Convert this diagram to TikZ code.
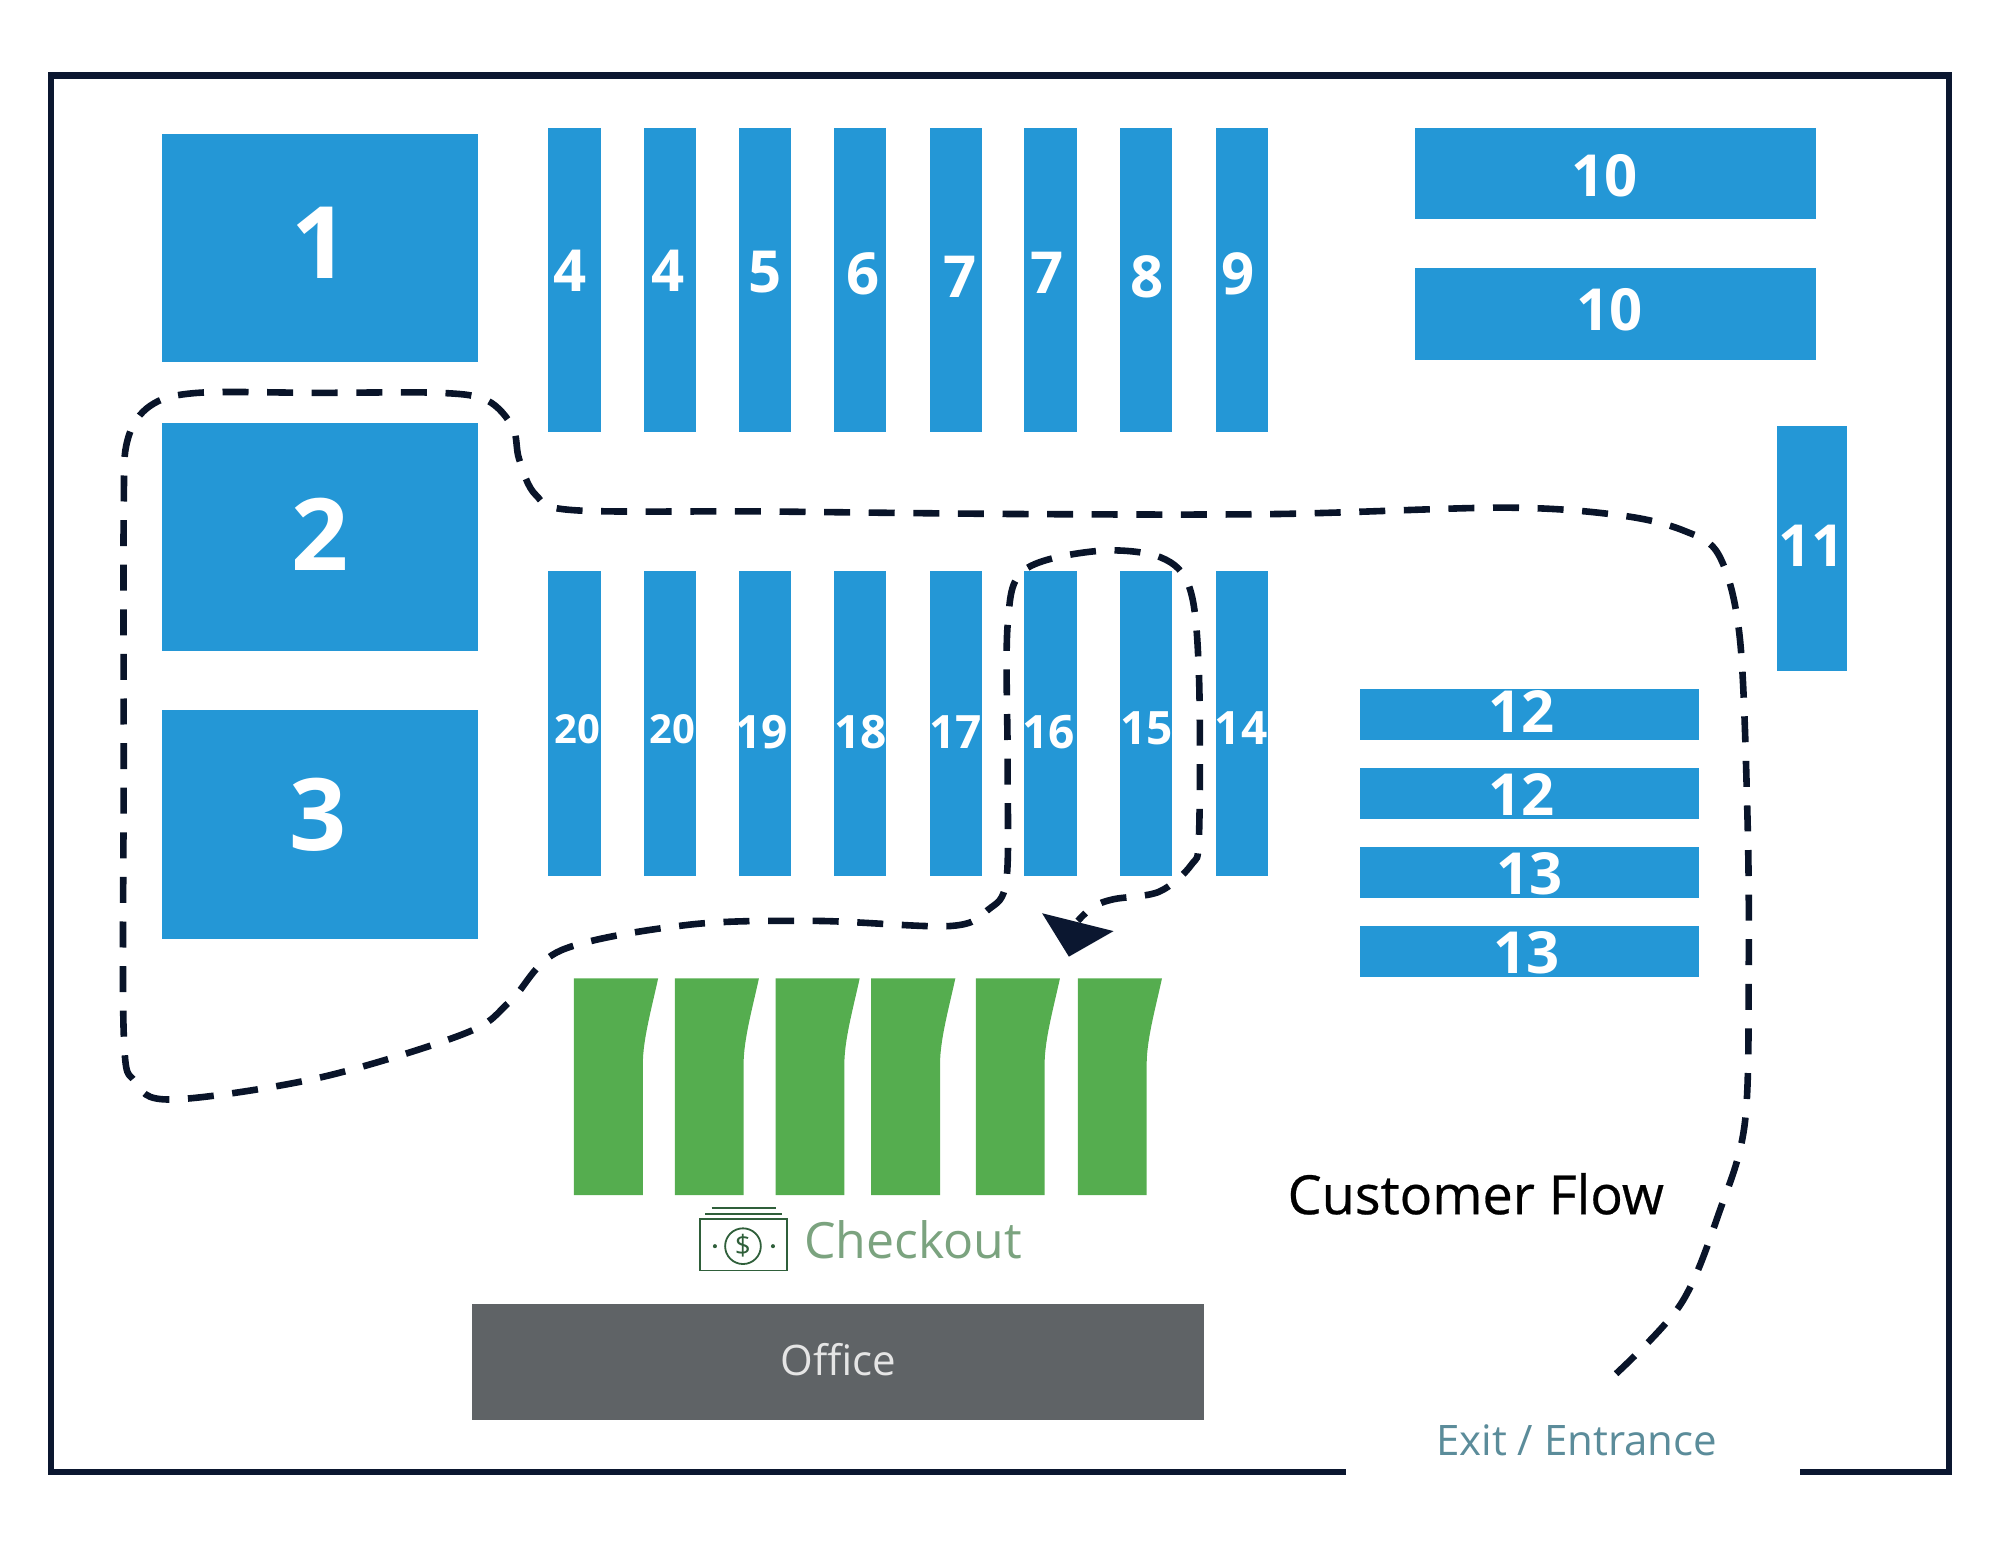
\documentclass[tikz,border=0pt]{standalone}
\usepackage{fontspec}
\setmainfont{Open Sans}
\definecolor{shelf}{HTML}{2497D6}
\definecolor{till}{HTML}{55AD4F}
\definecolor{navy}{HTML}{0B1730}
\definecolor{officegrey}{HTML}{5F6366}
\definecolor{checkgreen}{HTML}{7BA37F}
\definecolor{icongreen}{HTML}{2F5F3A}
\definecolor{exitteal}{HTML}{5B8C9A}
\tikzset{
  shelfbox/.style={fill=shelf,draw=none},
  tillbox/.style={fill=till,draw=none},
  num/.style={text=white,font=\bfseries\fontsize{29}{29}\selectfont,inner sep=0pt},
  numsmall/.style={text=white,font=\bfseries\fontsize{23}{23}\selectfont,inner sep=0pt},
  numtiny/.style={text=white,font=\bfseries\fontsize{20}{20}\selectfont,inner sep=0pt},
  numbig/.style={text=white,font=\bfseries\fontsize{50}{50}\selectfont,inner sep=0pt},
  wall/.style={draw=navy,line width=3.4pt,line cap=butt,line join=miter},
  flow/.style={draw=navy!85!black,line width=3.3pt,dash pattern=on 13pt off 9.3pt},
}
\begin{document}
\begin{tikzpicture}[x=0.63776pt,y=-0.63776pt]
\useasboundingbox (0,0) rectangle (1568,1211.4);
% walls
\draw[wall] (1055,1154) -- (40,1154) -- (40,59) -- (1528,59) -- (1528,1154) -- (1411,1154);
% departments
\foreach \a/\b/\c/\d in {127/105/375/284,127/332/375/510,127/557/375/736,
  1109/100/1424/172,1109/210/1424/282,1393/334/1448/526,
  1066/540/1332/580,1066/602/1332/642,1066/664/1332/704,1066/726/1332/766}
  \fill[shelfbox] (\a,\b) rectangle (\c,\d);
% aisles
\foreach \a in {430,505,579,654,729,803,878,953}{
  \fill[shelfbox] (\a,100) rectangle (\a+41,339);
  \fill[shelfbox] (\a,448) rectangle (\a+41,687);
}
% checkouts
\foreach \a in {450,529,608,683,765,845}
  \fill[tillbox] (\a,767) -- (\a+66,767) .. controls (\a+61,790) and (\a+54,815) .. (\a+54,834) -- (\a+54,937) -- (\a,937) -- cycle;
% office
\fill[officegrey] (370,1022) rectangle (944,1113);
% flow
\draw[flow] plot[smooth,tension=0.55] coordinates {
 (1267,1077) (1318,1022) (1348,950) (1368,880) (1371,760) (1370,640) (1364,500) (1348,436) (1320,416)
 (1270,404) (1180,398) (1000,403) (800,403) (600,401) (450,400) (420,388) (407,360) (402,335) (382,314) (345,308)
 (250,308) (155,308) (118,318) (100,345) (97,400) (97,600) (97,810) (106,848) (135,862) (250,845) (365,810) (400,785)
 (440,745) (540,725) (640,722) (745,726) (775,713) (789,690) (790,600) (790,490) (803,447) (860,432) (910,437)
 (933,462) (940,530) (940,655) (934,678) (909,699) (873,705) (857,711) (845,722)};
\fill[navy] (817,716) -- (873,730) -- (838,750) -- cycle;
% icon
\draw[icongreen,line width=0.9pt] (549,956) rectangle (617,996);
\draw[icongreen,line width=0.9pt] (558,947) -- (608,947) (553,951.5) -- (613,951.5);
\draw[icongreen,line width=0.9pt] (582.5,977) circle (14);
\fill[icongreen] (560.5,977) circle (1.6) (606,977) circle (1.6);
\node[inner sep=0pt,text=icongreen,font=\fontsize{14}{14}\selectfont] (dollar) at (582.5,977) {\$};
% labels
\node[numbig] (d1) at (251,190) {1};
\node[numbig] (d2) at (251,419) {2};
\node[numbig] (d3) at (249,639) {3};
\foreach \n/\t/\x/\y in {a/4/447/212,b/4/524/212,c/5/600/213,e/6/677/215,f/7/753/217,g/7/821/214,h/8/899/217,i/9/971/215,
  j/10/1258/138,k/10/1262/243,l/11/1420/428,m/12/1193/558,n/12/1193/623,o/13/1199/685,p/13/1197/747}
  \node[num] (\n) at (\x,\y) {\t};
\foreach \n/\t/\x/\y in {s/19/597/574,t/18/675/574,u/17/749/574,v/16/822/574,w/15/899/571,z/14/973/571}
  \node[numsmall] (\n) at (\x,\y) {\t};
\foreach \n/\t/\x/\y in {q/20/453/572,r/20/527/572}
  \node[numtiny] (\n) at (\x,\y) {\t};
\node[inner sep=0pt,text=black,font=\addfontfeature{FakeBold=0.5}\fontsize{27}{27}\selectfont] (cf) at (1157,936) {Customer Flow};
\node[inner sep=0pt,text=checkgreen,font=\fontsize{25}{25}\selectfont] (co) at (716,972) {Checkout};
\node[inner sep=0pt,text=white!90!black,font=\fontsize{21}{21}\selectfont] (off) at (657,1066) {Office};
\node[inner sep=0pt,text=exitteal,font=\fontsize{21}{21}\selectfont] (ex) at (1236,1129) {Exit / Entrance};
\end{tikzpicture}
\end{document}
